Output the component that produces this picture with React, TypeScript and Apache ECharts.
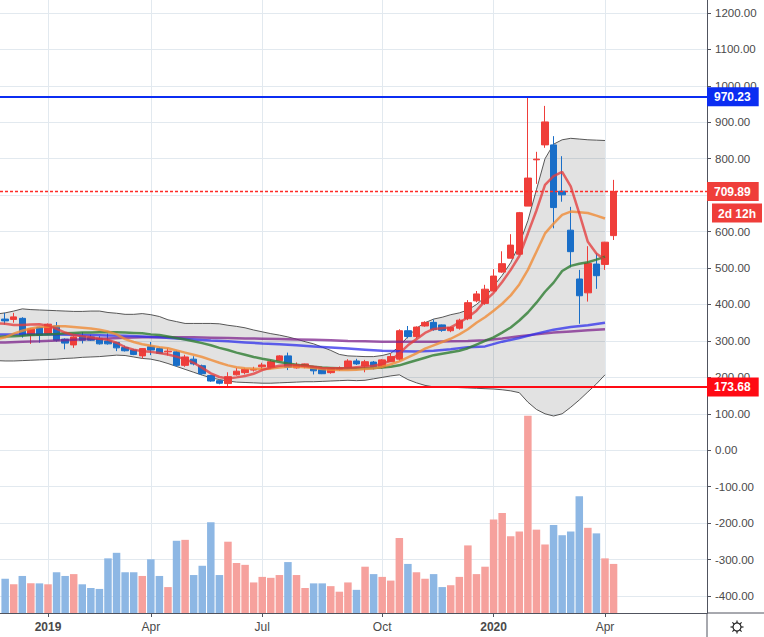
import { useEffect, useRef } from 'react';
import * as echarts from 'echarts';

// x positions are weekly bar indices (bar 0 = week of 2018-12-03, bar 71 = week of 2020-04-13)
const tickBars = [5, 17, 30, 44, 57, 70];
const tickLabels = ['2019', 'Apr', 'Jul', 'Oct', '2020', 'Apr'];
const priceTicks = [-400, -300, -200, -100, 0, 100, 200, 300, 400, 500, 600, 700, 800, 900, 1000, 1100, 1200];

const opens = [360,359,362,316,337,320,341,305,289,313,311,307,300,296,282,275,259,284,279,270,270,233,250,232,205,191,183,207,213,220,229,228,246,259,226,229,229,222,213,222,228,245,231,242,228,243,250,328,312,341,351,344,328,335,361,410,403,437,489,527,538,670,797,838,838,711,604,470,432,511,510,589];
const closes = [355,366,317,333,316,346,302,294,311,302,302,292,292,281,273,263,279,275,266,272,233,256,237,210,190,184,202,217,222,222,234,243,259,228,234,237,218,210,225,225,245,237,243,229,248,257,328,312,338,351,331,329,337,357,405,429,442,478,512,563,652,747,799,901,666,701,545,424,513,479,571,709.89];
const lows = [345,350,309,292,295,317,298,277,281,293,300,290,290,272,271,261,252,261,264,260,229,229,233,207,188,181,176,205,208,216,222,226,244,220,224,225,208,209,210,218,225,234,214,222,224,242,246,307,307,339,328,325,324,331,357,406,399,435,487,527,536,670,731,830,609,682,502,347,408,443,495,577];
const highs = [377,377,365,335,339,348,352,307,313,324,317,313,320,297,287,277,280,297,282,280,273,262,258,235,207,193,214,226,225,229,240,248,261,268,241,238,231,224,228,230,250,251,248,245,250,266,332,341,340,354,359,345,339,361,412,437,454,497,546,593,654,970,819,945,862,807,668,495,560,540,572,742];
const volumes = [37,31,40,32,32,31,44,40,42,31,27,26,59,65,44,44,40,58,40,28,78,79,41,51,98,41,77,54,52,33,39,38,41,55,41,27,32,32,29,23,33,25,50,42,39,35,81,53,44,37,42,28,30,39,73,42,50,101,108,83,88,213,90,74,95,84,88,126,92,86,59,53];

// indicator lines, bars -1 .. 70
const lineStart = -1;
const ma5 = [348,347,344,344,345,346,342,333,323,316,313,310,306,303,295,283,276,272,270,267,263,257,250,240,226,211,201,197,200,204,210,220,227,232,234,233,231,229,226,225,225,226,228,230,232,237,246,266,288,305,322,333,335,337,350,365,383,410,432,462,495,533,595,658,728,752,764,724,650,572,540,522];
const ma10 = [305,310,320,328,334,338,339,340,340,338,336,334,331,326,318,305,297,291,287,283,280,274,268,262,256,248,240,233,228,225,224,223,224,227,229,229,228,226,223,221,220,220,221,223,225,229,236,244,255,266,279,288,297,306,318,332,350,365,383,402,425,455,495,545,595,622,646,655,653,651,644,636];
const ma20 = [311,312,313,314,316,317,318,319,321,322,323,323,324,324,324,323,322,321,318,316,312,308,304,299,294,288,281,275,268,262,256,251,247,242,238,235,232,229,227,226,225,225,225,225,226,227,229,233,240,247,254,261,265,269,273,280,290,300,310,323,337,356,378,405,435,460,492,506,512,516,523,531];
const bbUpper = [374,377,382,388,386,385,384,383,382,381,381,382,382,378,376,373,373,375,372,367,358,353,348,348,348,348,347,343,340,336,330,325,320,316,311,305,298,292,283,274,263,259,258,257,257,260,266,285,312,335,350,360,365,372,377,385,400,420,450,480,515,565,630,715,800,840,852,856,854,852,851,850];
const bbLower = [246,245,245,246,247,248,249,250,252,253,255,256,257,259,261,260,256,252,250,245,238,230,222,214,206,199,194,190,187,186,185,184,184,185,186,187,188,188,189,190,191,192,191,192,196,200,204,207,194,185,178,174,173,173,172,171,170,169,168,166,163,158,132,112,100,94,100,118,138,160,182,207];
const slowBars = [-1,0,2,4,6,8,10,12,14,16,18,20,22,24,26,28,30,32,34,36,38,40,42,44,46,48,50,52,54,56,58,60,62,64,66,68,70];
const ma50 = [318,318,318,318,318,317,316,315,314,312,310,307,304,301,299,296,293,291,288,285,282,279,276,273,272,271,273,277,283,285,298,308,320,331,338,343,350];
const ma100 = [295,296,298,299,301,303,305,307,309,310,310,310,310,309,308,307,306,305,304,303,302,300,299,298,298,298,298,299,300,302,307,313,318,323,326,329,332];

const levels = [970.23, 173.68];
const countdown = '2d 12h';

const UP = '#ef3e3a';
const DOWN = '#196ec8';
const FONT = '"Liberation Sans", Arial, sans-serif';

const withIndex = (arr: number[], start: number) => arr.map((v, k) => [start + k, v]);

export default function App() {
  const ref = useRef<HTMLDivElement>(null);
  useEffect(() => {
    const chart = echarts.init(ref.current!, null, { renderer: 'svg' });
    const candles = opens.map((o, i) => [i, o, closes[i], lows[i], highs[i]]);
    const vol = volumes.map((v, i) => ({
      value: [i, v],
      itemStyle: { color: closes[i] >= opens[i] ? '#f6a19d' : '#8db7e4' },
    }));
    const last = closes[closes.length - 1];
    const maLine = (name: string, data: number[][], color: string) => ({
      name, type: 'line', data, symbol: 'none', silent: true,
      lineStyle: { color, width: 2.5 }, z: 5,
    });
    const tagLabel = (text: string, bg: string) => ({
      show: true, position: 'end', distance: 0, formatter: text,
      color: '#fff', backgroundColor: bg, fontSize: 12, fontWeight: 'bold',
      fontFamily: FONT, padding: [4, 8, 3, 7],
    });
    const baseGraphic: any[] = [
      { type: 'line', shape: { x1: 707, y1: 613, x2: 764, y2: 613 }, style: { stroke: '#50535e', lineWidth: 1 }, silent: true },
      { type: 'line', shape: { x1: 707, y1: 613, x2: 707, y2: 637 }, style: { stroke: '#50535e', lineWidth: 1 }, silent: true },
      {
        type: 'group', x: 737, y: 627, silent: true,
        children: [
          { type: 'circle', shape: { cx: 0, cy: 0, r: 4 }, style: { stroke: '#222', fill: 'none', lineWidth: 1.2 } },
          ...[0, 1, 2, 3, 4, 5, 6, 7].map((k) => {
            const a = (k * Math.PI) / 4;
            return {
              type: 'line',
              shape: { x1: 4 * Math.cos(a), y1: 4 * Math.sin(a), x2: 6.5 * Math.cos(a), y2: 6.5 * Math.sin(a) },
              style: { stroke: '#222', lineWidth: 1.2 },
            };
          }),
        ],
      },
    ];
    const option: any = {
      animation: false,
      textStyle: { fontFamily: FONT },
      grid: { left: 0, right: 57, top: 0, bottom: 24 },
      xAxis: {
        type: 'value', min: -0.6015, max: 81.904,
        axisLine: { show: true, onZero: false, lineStyle: { color: '#50535e', width: 1 } },
        axisTick: { show: true, customValues: tickBars, length: 4, lineStyle: { color: '#50535e' } },
        axisLabel: {
          customValues: tickBars, color: '#4a4a4a', fontSize: 12, margin: 8, fontFamily: FONT,
          formatter: (v: number) => {
            const t = tickLabels[tickBars.indexOf(v)] || '';
            return /^\d{4}$/.test(t) ? '{y|' + t + '}' : t;
          },
          rich: { y: { fontWeight: 'bold', color: '#4a4a4a', fontSize: 12, fontFamily: FONT } },
        },
        splitLine: { show: true, lineStyle: { color: '#e2e9ef', width: 1 } },
      },
      yAxis: [
        {
          type: 'value', position: 'right', min: -446.6, max: 1235.6,
          axisLine: { show: true, onZero: false, lineStyle: { color: '#50535e', width: 1 } },
          axisTick: { show: true, customValues: priceTicks, length: 4, lineStyle: { color: '#50535e' } },
          axisLabel: {
            customValues: priceTicks, color: '#4a4a4a', fontSize: 11.5, margin: 8, fontFamily: FONT,
            formatter: (v: number) => v.toFixed(2),
          },
          splitLine: { show: true, lineStyle: { color: '#e2e9ef', width: 1 } },
        },
        { type: 'value', min: 0, max: 662, show: false, splitLine: { show: false } },
      ],
      series: [
        {
          name: 'Volume', type: 'bar', yAxisIndex: 1, data: vol, barWidth: 7.5, silent: true, z: 1,
        },
        {
          name: 'bbFill', type: 'custom', data: [[0, 0]], clip: true, silent: true, z: 2,
          renderItem: (params: any, api: any) => {
            if (params.dataIndex !== 0) return null;
            const pts: number[][] = [];
            bbUpper.forEach((v, k) => pts.push(api.coord([lineStart + k, v])));
            for (let k = bbLower.length - 1; k >= 0; k--) pts.push(api.coord([lineStart + k, bbLower[k]]));
            return { type: 'polygon', shape: { points: pts }, style: { fill: 'rgba(0,0,0,0.115)', stroke: 'none' } };
          },
        },
        {
          name: 'bbUpper', type: 'line', data: withIndex(bbUpper, lineStart), symbol: 'none',
          lineStyle: { color: 'rgba(60,60,60,0.85)', width: 1 }, silent: true, z: 3,
        },
        {
          name: 'bbLower', type: 'line', data: withIndex(bbLower, lineStart), symbol: 'none',
          lineStyle: { color: 'rgba(60,60,60,0.85)', width: 1 }, silent: true, z: 3,
        },
        {
          name: 'Price', type: 'candlestick', data: candles, barWidth: 7, clip: false, z: 4,
          encode: { x: 0, y: [1, 2, 3, 4] },
          itemStyle: { color: UP, color0: DOWN, borderColor: UP, borderColor0: DOWN, borderWidth: 1 },
          markLine: {
            silent: true, symbol: ['none', 'none'], animation: false,
            data: [
              { yAxis: levels[0], lineStyle: { color: '#0b2df2', width: 2, type: 'solid' }, label: tagLabel(levels[0].toFixed(2), '#0b2df2') },
              { yAxis: last, lineStyle: { color: '#ff2a26', width: 1.3, type: [3, 2], opacity: 1 }, label: tagLabel(last.toFixed(2), UP) },
              { yAxis: levels[1], lineStyle: { color: '#ff0a14', width: 2, type: 'solid' }, label: tagLabel(levels[1].toFixed(2), '#ff0a14') },
            ],
          },
        },
        maLine('MA100', ma100.map((v, k) => [slowBars[k], v]), 'rgba(125,35,140,0.75)'),
        maLine('MA50', ma50.map((v, k) => [slowBars[k], v]), 'rgba(45,45,235,0.75)'),
        maLine('MA20', withIndex(ma20, lineStart), 'rgba(46,125,50,0.8)'),
        maLine('MA10', withIndex(ma10, lineStart), 'rgba(240,140,55,0.8)'),
        maLine('MA5', withIndex(ma5, lineStart), 'rgba(228,60,60,0.78)'),
      ],
      graphic: baseGraphic,
    };
    chart.setOption(option);
    const yLast = chart.convertToPixel({ yAxisIndex: 0 }, last) as number;
    const xAxisEnd = chart.convertToPixel({ xAxisIndex: 0 }, 81.904) as number;
    chart.setOption({
      graphic: [
        ...baseGraphic,
        {
          type: 'text', x: xAxisEnd + 5, y: yLast + 12, silent: true, z: 10,
          style: {
            text: countdown, fill: '#fff', backgroundColor: UP, padding: [4, 6, 3, 6],
            font: 'bold 12px "Liberation Sans", Arial, sans-serif', align: 'left', verticalAlign: 'top',
          },
        },
      ],
    });
    return () => chart.dispose();
  }, []);
  return <div ref={ref} style={{ position: 'absolute', left: 0, top: 0, width: 764, height: 637 }} />;
}
